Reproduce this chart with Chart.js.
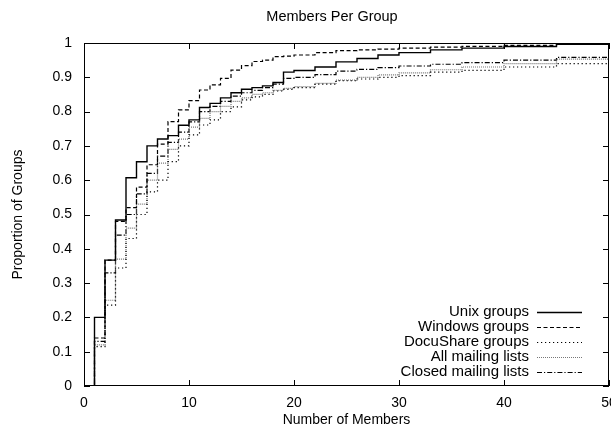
<!DOCTYPE html>
<html>
<head>
<meta charset="utf-8">
<script src="https://cdn.jsdelivr.net/npm/chart.js@4.4.1/dist/chart.umd.min.js"></script>
<style>
  html, body { margin: 0; padding: 0; background: #fff; }
  #wrap { width: 611px; height: 432px; }
</style>
</head>
<body>
<div id="wrap"><canvas id="c" width="611" height="432"></canvas></div>
<script>
// Group size (number of members) at which each CDF is sampled
const memberCounts = [0, 1, 2, 3, 4, 5, 6, 7, 8, 9, 10, 11, 12, 13, 14, 15, 16, 17, 18, 19, 20,
  22, 24, 26, 28, 30, 33, 36, 40, 45, 50];

// Cumulative proportion of groups, per source
const unixGroups = [0, 0.20, 0.367, 0.484, 0.607, 0.654, 0.70, 0.72, 0.73, 0.76, 0.776, 0.812, 0.824, 0.84, 0.855, 0.865, 0.87, 0.875, 0.885, 0.915, 0.92,
  0.93, 0.945, 0.955, 0.965, 0.972, 0.98, 0.985, 0.99, 0.996, 1.0];
const windowsGroups = [0, 0.14, 0.367, 0.48, 0.52, 0.58, 0.645, 0.705, 0.771, 0.805, 0.832, 0.863, 0.878, 0.897, 0.921, 0.934, 0.946, 0.95, 0.96, 0.962, 0.965,
  0.972, 0.978, 0.98, 0.982, 0.985, 0.988, 0.99, 0.993, 0.997, 1.0];
const docuShareGroups = [0, 0.115, 0.236, 0.344, 0.43, 0.50, 0.566, 0.60, 0.654, 0.70, 0.732, 0.761, 0.776, 0.80, 0.814, 0.834, 0.843, 0.85, 0.86, 0.865, 0.87,
  0.88, 0.89, 0.895, 0.90, 0.905, 0.915, 0.92, 0.93, 0.94, 0.95];
const allMailingLists = [0, 0.12, 0.25, 0.37, 0.46, 0.53, 0.60, 0.65, 0.69, 0.72, 0.755, 0.78, 0.80, 0.815, 0.83, 0.84, 0.85, 0.855, 0.862, 0.868, 0.873,
  0.882, 0.892, 0.90, 0.907, 0.913, 0.922, 0.93, 0.94, 0.953, 0.965];
const closedMailingLists = [0, 0.13, 0.33, 0.44, 0.50, 0.56, 0.62, 0.67, 0.71, 0.74, 0.77, 0.80, 0.815, 0.83, 0.845, 0.855, 0.862, 0.87, 0.88, 0.897, 0.90,
  0.908, 0.918, 0.923, 0.928, 0.933, 0.938, 0.943, 0.95, 0.958, 0.965];

const seriesLabels = ['Unix groups', 'Windows groups', 'DocuShare groups', 'All mailing lists', 'Closed mailing lists'];
const seriesValues = [unixGroups, windowsGroups, docuShareGroups, allMailingLists, closedMailingLists];
const seriesDash = [[], [4, 2.5], [1.2, 2.8], [1, 1], [5, 2, 1.2, 2]];
const seriesColor = ['#000', '#000', '#000', '#777', '#000'];

const xTicks = [0, 10, 20, 30, 40, 50];
const yTicks = [0, 0.1, 0.2, 0.3, 0.4, 0.5, 0.6, 0.7, 0.8, 0.9, 1];

const FONT = "'Liberation Sans', Arial, sans-serif";
const chartTitle = 'Members Per Group';

// gnuplot style: inward ticks on all four sides, closed border, legend inside
const gnuplotFrame = {
  id: 'gnuplotFrame',
  afterDraw(chart) {
    const { ctx, chartArea: a, scales } = chart;
    ctx.save();
    ctx.strokeStyle = '#000';
    ctx.lineWidth = 1;
    ctx.setLineDash([]);
    ctx.strokeRect(Math.round(a.left) + 0.5, Math.round(a.top) + 0.5,
      Math.round(a.right - a.left) - 1, Math.round(a.bottom - a.top) - 1);
    const tl = 6;
    ctx.beginPath();
    yTicks.forEach(v => {
      const y = Math.round(scales.y.getPixelForValue(v)) + 0.5;
      ctx.moveTo(a.left, y); ctx.lineTo(a.left + tl, y);
      ctx.moveTo(a.right, y); ctx.lineTo(a.right - tl, y);
    });
    xTicks.forEach(v => {
      const x = Math.round(scales.x.getPixelForValue(v)) + 0.5;
      ctx.moveTo(x, a.bottom); ctx.lineTo(x, a.bottom - tl);
      ctx.moveTo(x, a.top); ctx.lineTo(x, a.top + tl);
    });
    ctx.stroke();

    // title
    ctx.fillStyle = '#000';
    ctx.font = '14.5px ' + FONT;
    ctx.textAlign = 'center';
    ctx.textBaseline = 'middle';
    ctx.fillText(chartTitle, 332, 17);

    // legend
    ctx.font = '15px ' + FONT;
    ctx.textAlign = 'right';
    chart.data.datasets.forEach((ds, i) => {
      const y = 312 + i * 14.9;
      ctx.fillText(ds.label, 529, y);
      ctx.strokeStyle = ds.borderColor;
      ctx.lineWidth = ds.borderWidth;
      ctx.setLineDash(ds.borderDash);
      ctx.beginPath();
      ctx.moveTo(537, Math.round(y) + 0.5);
      ctx.lineTo(582, Math.round(y) + 0.5);
      ctx.stroke();
    });
    ctx.restore();
  }
};

new Chart(document.getElementById('c'), {
  type: 'line',
  data: {
    datasets: seriesLabels.map((label, i) => ({
      label: label,
      data: memberCounts.map((m, j) => ({ x: m, y: seriesValues[i][j] })),
      borderColor: seriesColor[i],
      borderWidth: i === 0 ? 1.4 : 1.2,
      borderDash: seriesDash[i],
      stepped: 'before',
      pointRadius: 0,
      fill: false
    }))
  },
  options: {
    responsive: false,
    animation: false,
    layout: { padding: { left: 0, right: 2, top: 43, bottom: 0 } },
    plugins: {
      legend: { display: false },
      tooltip: { enabled: false },
      title: { display: false }
    },
    scales: {
      x: {
        type: 'linear',
        min: 0, max: 50,
        grid: { display: false, drawTicks: false },
        border: { display: false },
        ticks: { stepSize: 10, padding: 9, color: '#000', font: { family: FONT, size: 14 } },
        title: { display: true, text: 'Number of Members', color: '#000',
          font: { family: FONT, size: 14 }, padding: { top: 0, bottom: 3 } },
        afterFit(s) { s.height = 46; s.paddingLeft = 0; s.paddingRight = 0; }
      },
      y: {
        min: 0, max: 1,
        grid: { display: false, drawTicks: false },
        border: { display: false },
        ticks: { stepSize: 0.1, padding: 12, color: '#000', font: { family: FONT, size: 14 },
          callback: v => String(Math.round(v * 10) / 10) },
        title: { display: true, text: 'Proportion of Groups', color: '#000',
          font: { family: FONT, size: 14 }, padding: { top: 10, bottom: 0 } },
        afterFit(s) { s.width = 84; s.paddingTop = 0; s.paddingBottom = 0; }
      }
    }
  },
  plugins: [gnuplotFrame]
});
</script>
</body>
</html>
